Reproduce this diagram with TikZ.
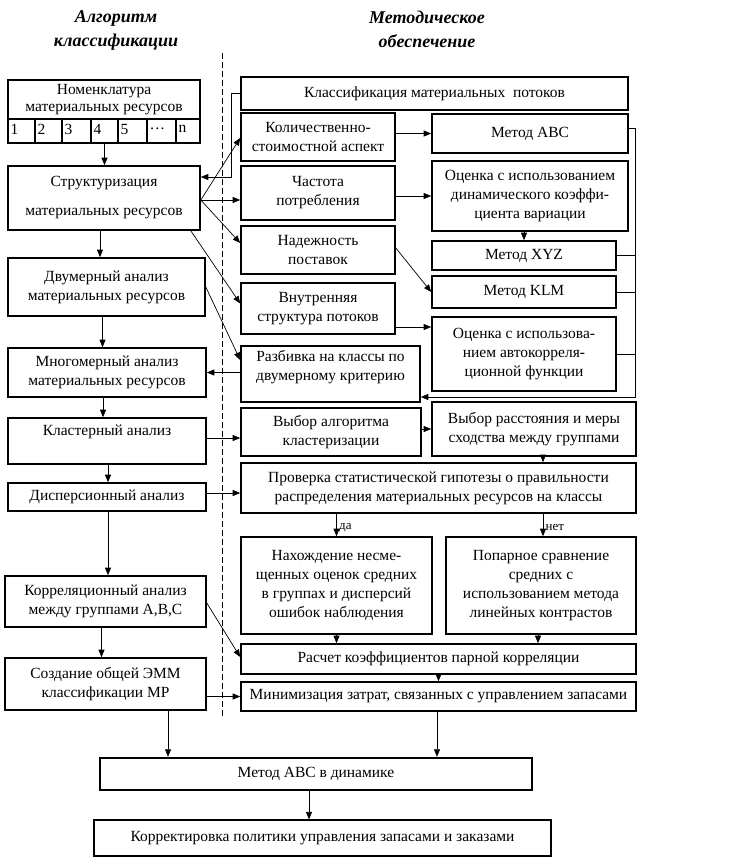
\documentclass[tikz,border=0pt]{standalone}
\usepackage{fontspec}
\setmainfont{Liberation Serif}
\usetikzlibrary{arrows.meta}

\begin{document}
\begin{tikzpicture}[x=1pt,y=-1pt,font=\fontsize{15.5}{19}\selectfont]
    \tikzstyle{every path}=[line width=0.7pt]
    \tikzstyle{blok}=[draw,line width=1.6pt,inner sep=1pt,align=center]
    \tikzstyle{cell}=[draw,line width=1.6pt,minimum height=24pt,inner sep=0pt]
    \tikzstyle{arr}=[-{Triangle[length=7.5pt,width=6pt]}]
    \tikzstyle{head}=[align=center,font=\fontsize{18}{24}\selectfont\bfseries\itshape]
    \tikzstyle{yesno}=[font=\fontsize{13}{15}\selectfont]
    \useasboundingbox (0,0) rectangle (732,860);

    % Headings and the dashed border
    \node[head] (hl) at (116,30) {Алгоритм\\классификации};
    \node[head] (hr) at (427,29) {Методическое\\обеспечение};
    \draw[dash pattern=on 6pt off 3pt] (222,53) -- (222,717);

    % Draw the algorithm column
    \node[blok,minimum width=192pt,minimum height=39pt] (nom) at (104,99.5) {Номенклатура\\[-2pt]материальных ресурсов};
    \foreach \a/\b/\t [count=\i] in {8/35/1,35/62/2,62/91/3,91/118/4,118/147/5,147/176/\dots,176/200/n}
    {
        \node[cell,minimum width=\b-\a] (c\i) at ({(\a+\b)/2},131) {};
        \node[anchor=west,inner sep=3pt] (t\i) at ([yshift=2pt]c\i.west) {\t};
    }
    \node[blok,minimum width=192pt,minimum height=64pt] (str) at (104,198) {Структуризация\\[10pt]материальных ресурсов};
    \node[blok,minimum width=197pt,minimum height=58pt] (dvu) at (106.5,287) {Двумерный анализ\\материальных ресурсов};
    \node[blok,minimum width=198pt,minimum height=49pt] (mno) at (107,372.5) {Многомерный анализ\\материальных ресурсов};
    \node[blok,minimum width=198pt,minimum height=46pt] (kla) at (107,441) {Кластерный анализ\\[-4pt]\strut};
    \node[blok,minimum width=198pt,minimum height=28pt] (dis) at (107,497) {Дисперсионный анализ};
    \node[blok,minimum width=201pt,minimum height=51pt] (kor) at (105.5,601.5) {Корреляционный анализ\\между группами А,В,С};
    \node[blok,minimum width=201pt,minimum height=52pt] (sozd) at (105.5,684) {Создание общей ЭММ\\классификации МР};

    % Draw the methods column
    \node[blok,minimum width=387pt,minimum height=33pt] (klas) at (434.5,93.5) {Классификация материальных\ \ потоков};
    \node[blok,minimum width=154pt,minimum height=48pt] (kol) at (318,137) {Количественно-\\стоимостной аспект};
    \node[blok,minimum width=196pt,minimum height=39pt] (abc) at (530,133.5) {\raisebox{3pt}{Метод АВС}};
    \node[blok,minimum width=154pt,minimum height=54pt] (chast) at (318,193) {Частота\\потребления};
    \node[blok,minimum width=196pt,minimum height=70pt] (ocd) at (530,196) {Оценка с использованием\\динамического коэффи-\\циента вариации};
    \node[blok,minimum width=154pt,minimum height=48pt] (nad) at (318,250) {Надежность\\поставок};
    \node[blok,minimum width=184pt,minimum height=29pt] (xyz) at (524,255.5) {Метод XYZ};
    \node[blok,minimum width=184pt,minimum height=32pt] (klm) at (524,292) {Метод KLM};
    \node[blok,minimum width=154pt,minimum height=51pt] (vnu) at (318,308.5) {Внутренняя\\структура потоков};
    \node[blok,minimum width=184pt,minimum height=74pt] (oca) at (524,354) {Оценка с использова-\\нием автокорреля-\\ционной функции};
    \node[blok,minimum width=179pt,minimum height=56pt] (razb) at (330.5,374) {Разбивка на классы по\\двумерному критерию\\[-8pt]\strut};
    \node[blok,minimum width=180pt,minimum height=48pt] (vyba) at (331,432) {Выбор алгоритма\\кластеризации};
    \node[blok,minimum width=204pt,minimum height=54pt] (vybr) at (534,429) {Выбор расстояния и меры\\сходства между группами};
    \node[blok,minimum width=395pt,minimum height=50pt] (prov) at (438.5,488) {Проверка статистической гипотезы о правильности\\распределения материальных ресурсов на классы};
    \node[blok,minimum width=191pt,minimum height=97pt] (nah) at (336.5,585.5) {Нахождение несме-\\щенных оценок средних\\в группах и дисперсий\\ошибок наблюдения};
    \node[blok,minimum width=190pt,minimum height=97pt] (pop) at (541,585.5) {Попарное сравнение\\средних с\\использованием метода\\линейных контрастов};
    \node[blok,minimum width=395pt,minimum height=30pt] (rasch) at (438.5,659) {Расчет коэффициентов парной корреляции};
    \node[blok,minimum width=395pt,minimum height=29pt] (min) at (438.5,696.5) {Минимизация затрат, связанных с управлением запасами};

    % Draw the final nodes
    \node[blok,line width=2.4pt,minimum width=432pt,minimum height=32pt] (abcd) at (316,774) {Метод АВС в динамике};
    \node[blok,line width=1.2pt,minimum width=457pt,minimum height=36pt] (korr) at (322.5,838) {Корректировка политики управления запасами и заказами};

    % Connect the algorithm steps
    \draw[arr] (c4.south) -- (c4.south |- str.north);
    \foreach \source/\dest in {str/dvu,dvu/mno,mno/kla}
        \draw[arr] ([xshift=-4pt]\source.south) -- ([xshift=-4pt]\source.south |- \dest.north);
    \foreach \source/\dest in {kla/dis,dis/kor}
        \draw[arr] ([xshift=1pt]\source.south) -- ([xshift=1pt]\source.south |- \dest.north);
    \draw[arr] ([xshift=-4pt]kor.south) -- ([xshift=-4pt]kor.south |- sozd.north);
    \draw[arr] ([xshift=62.5pt]sozd.south) -- ([xshift=62.5pt]sozd.south |- abcd.north);
    \draw[arr] ([xshift=-1.5pt]min.south) -- ([xshift=-1.5pt]min.south |- abcd.north);
    \draw[arr] ([xshift=-7pt]abcd.south) -- ([xshift=-7pt]abcd.south |- korr.north);

    % Connect the structuring step with the aspects
    \draw[arr] (klas.west) -- ++(-9,0) |- ([yshift=21pt]str.east);
    \coordinate (s) at ([yshift=-2pt]str.east);
    \draw[arr] (s) -- ([yshift=-1pt]kol.west);
    \draw[arr] (s) -- (s -| chast.west);
    \draw[arr] (s) -- ([yshift=7pt]nad.west);
    \draw[arr] ([xshift=-10pt]str.south east) -- ([yshift=5pt]vnu.west);
    \draw[arr] (dvu.east) -- ([yshift=14pt]razb.west);

    % Connect the aspects with the methods
    \draw[arr] (kol.east |- abc.west) -- (abc.west);
    \draw[arr] (chast.east |- ocd.west) -- (ocd.west);
    \draw[arr] (xyz.north |- ocd.south) -- (xyz.north);
    \draw[arr] ([yshift=2pt]nad.east) -- (klm.west);
    \draw[arr] ([yshift=-18.5pt]vnu.east) -- ([yshift=-18.5pt]vnu.east -| oca.west);

    % Collect the methods into the partition step
    \coordinate (rb) at ([xshift=7pt,yshift=5pt]abc.east);
    \draw[arr] ([yshift=5pt]abc.east) -- (rb) |- ([yshift=-23pt]razb.east);
    \foreach \n in {xyz,klm,oca}
        \draw (\n.east) -- (\n.east -| rb);
    \draw[arr] (razb.west |- mno.east) -- (mno.east);

    % Clustering, testing and correlation
    \draw[arr] ([yshift=3pt]kla.east) -- ([yshift=3pt]kla.east -| vyba.west);
    \draw[arr] (vyba.east |- vybr.west) -- (vybr.west);
    \draw[arr] ([xshift=9pt]vybr.south) -- ([xshift=9pt]vybr.south |- prov.north);
    \draw[arr] ([yshift=4pt]dis.east) -- ([yshift=4pt]dis.east -| prov.west);
    \draw[arr] (nah.north |- prov.south) -- (nah.north) node[yesno,pos=0.62,right=-1pt] {да};
    \draw[arr] ([xshift=2pt]pop.north |- prov.south) -- ([xshift=2pt]pop.north) node[yesno,pos=0.62,right=-1pt] {нет};
    \draw[arr] (nah.south) -- (nah.south |- rasch.north);
    \draw[arr] ([xshift=-3pt]pop.south) -- ([xshift=-3pt]pop.south |- rasch.north);
    \draw[arr] ([yshift=-1.5pt]kor.east) -- ([yshift=2pt]rasch.west);
    \draw[arr] (rasch.south) -- (rasch.south |- min.north);
    \draw[arr] (sozd.east |- min.west) -- (min.west);
\end{tikzpicture}
\end{document}
